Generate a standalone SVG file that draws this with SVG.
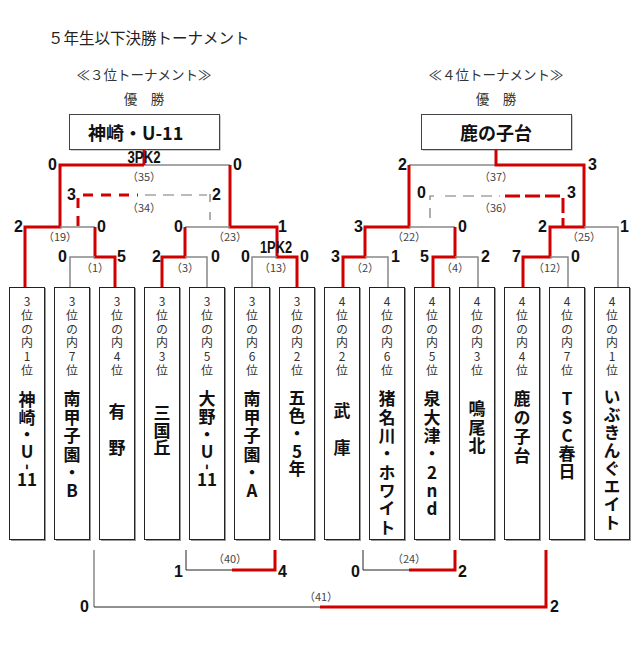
<svg xmlns="http://www.w3.org/2000/svg" width="640" height="650" viewBox="0 0 640 650">
<style>
.jp{font-family:"Noto Sans CJK JP","Noto Sans",sans-serif}
.ttl{font-size:15.5px;fill:#222}
.sub{font-size:13.5px;fill:#333;text-anchor:middle}
.win{font-size:18px;font-weight:bold;fill:#111}
.v{writing-mode:vertical-rl;text-orientation:upright;text-anchor:start}
.hd{font-size:12px;fill:#333;letter-spacing:1.75px}
.nm{font-size:17px;font-weight:bold;fill:#111}
.nh{font-size:17px;font-weight:bold;fill:#111;text-anchor:middle}
.sc{font-family:"Liberation Sans Narrow","Arial Narrow","Liberation Sans",sans-serif;font-weight:bold;font-size:16px;fill:#111}
.e{text-anchor:end}
.m{text-anchor:middle}
.lb{font-family:"Noto Sans CJK JP",sans-serif;font-size:11px;fill:#444;text-anchor:middle}
.box{fill:#fff;stroke:#222;stroke-width:1}
.sh{fill:#999}
.red{fill:none;stroke:#d00000;stroke-width:3;stroke-linejoin:miter}
.gry{fill:none;stroke:#888;stroke-width:1.5}
.blk{fill:none;stroke:#222;stroke-width:1}
.rd{fill:none;stroke:#d00000;stroke-width:3;stroke-dasharray:15 5}
.gd{fill:none;stroke:#777;stroke-width:1.2;stroke-dasharray:11 7}
</style>

<text class="jp ttl" x="48" y="44">５年生以下決勝トーナメント</text>
<text class="jp sub" x="144" y="80">≪３位トーナメント≫</text>
<text class="jp sub" x="496" y="80">≪４位トーナメント≫</text>
<text class="jp sub" x="144" y="104">優　勝</text>
<text class="jp sub" x="496" y="104">優　勝</text>

<g id="champion-left">
<rect x="70.5" y="115.5" width="150" height="35" class="sh"/>
<rect x="69.5" y="114.5" width="150" height="35" class="box" style="stroke:#444"/>
<text class="jp win" x="88" y="140">神崎・U-11</text>
</g>
<g id="champion-right">
<rect x="422.5" y="115.5" width="150" height="35" class="sh"/>
<rect x="421.5" y="114.5" width="150" height="35" class="box" style="stroke:#444"/>
<text class="jp win" x="496" y="140" text-anchor="middle">鹿の子台</text>
</g>

<g id="connectors">
<polyline class="gry" points="144,165 230,165"/>
<polyline class="red" points="25,287 25,227 60,227 60,165 144,165"/>
<polyline class="red" points="144,150 144,165"/>
<polyline class="red" points="230,165 230,227 277,227 277,257 297,257 297,287"/>
<polyline class="gry" points="60,227 95,227"/>
<polyline class="red" points="95,227 95,257 115,257 115,287"/>
<polyline class="gry" points="70,287 70,257 95,257"/>
<polyline class="gry" points="185,227 230,227"/>
<polyline class="red" points="185,227 185,257 162,257 162,287"/>
<polyline class="gry" points="185,257 207,257 207,287"/>
<polyline class="gry" points="252,287 252,257 277,257"/>
<polyline class="rd" points="78,226 78,195 138,195" style="stroke-dasharray:10 8"/>
<polyline class="gd" points="145,195 207,195"/>
<polyline class="gd" points="210,194 210,202" style="stroke-dasharray:none"/>
<polyline class="gd" points="210,212 210,220" style="stroke-dasharray:none"/>
<polyline class="gry" points="409,165 496,165"/>
<polyline class="red" points="496,150 496,165 584,165 584,227 550,227 550,257 523,257 523,287"/>
<polyline class="red" points="409,165 409,227 365,227 365,257 343,257 343,287"/>
<polyline class="gry" points="409,227 455,227"/>
<polyline class="red" points="455,227 455,257 433,257 433,287"/>
<polyline class="gry" points="365,257 388,257 388,287"/>
<polyline class="gry" points="455,257 478,257 478,287"/>
<polyline class="gry" points="550,257 568,257 568,287"/>
<polyline class="gry" points="584,227 618,227 618,287"/>
<polyline class="gd" points="430,200 430,196 434,196" style="stroke-dasharray:none"/>
<polyline class="gd" points="430,208 430,218" style="stroke-dasharray:none"/>
<polyline class="gd" points="445,196 500,196"/>
<polyline class="rd" points="505,196 563,196 563,226" style="stroke-dasharray:15 5"/>
<polyline class="blk" points="186,550 186,570 232,570"/>
<polyline class="red" points="232,570 275,570 275,550"/>
<polyline class="blk" points="363,550 363,570 409,570"/>
<polyline class="red" points="409,570 455,570 455,550"/>
<polyline class="gry" points="94,550 94,607"/>
<polyline class="blk" points="94,607 320,607"/>
<polyline class="red" points="320,607 546,607 546,550"/>
</g>

<g id="scores">
<text class="sc e" x="57" y="170">0</text>
<text class="sc m" x="144" y="163" textLength="33" lengthAdjust="spacingAndGlyphs">3PK2</text>
<text class="sc" x="233" y="170">0</text>
<text class="sc e" x="76" y="200">3</text>
<text class="sc" x="212" y="200">2</text>
<text class="sc e" x="23" y="232">2</text>
<text class="sc" x="97" y="232">0</text>
<text class="sc e" x="67" y="262">0</text>
<text class="sc" x="117" y="262">5</text>
<text class="sc e" x="183" y="232">0</text>
<text class="sc" x="278" y="232">1</text>
<text class="sc e" x="161" y="262">2</text>
<text class="sc" x="211" y="262">0</text>
<text class="sc e" x="250" y="262">0</text>
<text class="sc" x="300" y="262">0</text>
<text class="sc m" x="276" y="253" textLength="32" lengthAdjust="spacingAndGlyphs">1PK2</text>
<text class="sc e" x="407" y="170">2</text>
<text class="sc" x="588" y="170">3</text>
<text class="sc e" x="426" y="198">0</text>
<text class="sc" x="567" y="198">3</text>
<text class="sc e" x="363" y="232">3</text>
<text class="sc" x="458" y="232">0</text>
<text class="sc e" x="340" y="262">3</text>
<text class="sc" x="391" y="262">1</text>
<text class="sc e" x="429" y="262">5</text>
<text class="sc" x="481" y="262">2</text>
<text class="sc e" x="547" y="232">2</text>
<text class="sc" x="620" y="232">1</text>
<text class="sc e" x="521" y="262">7</text>
<text class="sc" x="571" y="262">0</text>
<text class="sc e" x="183" y="577">1</text>
<text class="sc" x="278" y="577">4</text>
<text class="sc e" x="360" y="577">0</text>
<text class="sc" x="458" y="577">2</text>
<text class="sc e" x="89" y="612">0</text>
<text class="sc" x="550" y="612">2</text>
</g>

<g id="match-labels">
<text class="lb" x="144" y="181">（35）</text>
<text class="lb" x="144" y="212">（34）</text>
<text class="lb" x="60" y="241">（19）</text>
<text class="lb" x="230" y="241">（23）</text>
<text class="lb" x="95" y="272">（1）</text>
<text class="lb" x="185" y="272">（3）</text>
<text class="lb" x="276" y="272">（13）</text>
<text class="lb" x="496" y="181">（37）</text>
<text class="lb" x="496" y="212">（36）</text>
<text class="lb" x="409" y="241">（22）</text>
<text class="lb" x="584" y="241">（25）</text>
<text class="lb" x="365" y="272">（2）</text>
<text class="lb" x="455" y="272">（4）</text>
<text class="lb" x="550" y="272">（12）</text>
<text class="lb" x="230" y="563">（40）</text>
<text class="lb" x="409" y="563">（24）</text>
<text class="lb" x="321" y="601">（41）</text>
</g>

<g id="team-1">
<rect x="11" y="288" width="35" height="253" class="sh"/><rect x="9.5" y="287.5" width="35" height="252" class="box"/>
<text class="jp hd v" x="27" y="295.5">3位の内1位</text>
<text class="jp nm v" x="27" y="391.5" style="letter-spacing:0.3px">神崎・U</text>
<text class="jp nh" transform="translate(27,467) rotate(90)" y="5">-</text>
<text class="jp nh" x="27" y="486">11</text>
</g>
<g id="team-2">
<rect x="56" y="288" width="35" height="253" class="sh"/><rect x="54.5" y="287.5" width="35" height="252" class="box"/>
<text class="jp hd v" x="72" y="295.5">3位の内7位</text>
<text class="jp nm v" x="72" y="390.5" style="letter-spacing:1.4px">南甲子園・B</text>
</g>
<g id="team-3">
<rect x="101" y="288" width="35" height="253" class="sh"/><rect x="99.5" y="287.5" width="35" height="252" class="box"/>
<text class="jp hd v" x="117" y="295.5">3位の内4位</text>
<text class="jp nm v" x="117" y="403" style="letter-spacing:1.2px">有　野</text>
</g>
<g id="team-4">
<rect x="146" y="288" width="35" height="253" class="sh"/><rect x="144.5" y="287.5" width="35" height="252" class="box"/>
<text class="jp hd v" x="162" y="295.5">3位の内3位</text>
<text class="jp nm v" x="162" y="404.5" style="letter-spacing:0.5px">三国丘</text>
</g>
<g id="team-5">
<rect x="191" y="288" width="35" height="253" class="sh"/><rect x="189.5" y="287.5" width="35" height="252" class="box"/>
<text class="jp hd v" x="207" y="295.5">3位の内5位</text>
<text class="jp nm v" x="207" y="390.5" style="letter-spacing:0.6px">大野・U</text>
<text class="jp nh" transform="translate(207,467) rotate(90)" y="5">-</text>
<text class="jp nh" x="207" y="486">11</text>
</g>
<g id="team-6">
<rect x="236" y="288" width="35" height="253" class="sh"/><rect x="234.5" y="287.5" width="35" height="252" class="box"/>
<text class="jp hd v" x="252" y="295.5">3位の内6位</text>
<text class="jp nm v" x="252" y="390.5" style="letter-spacing:1.4px">南甲子園・A</text>
</g>
<g id="team-7">
<rect x="281" y="288" width="35" height="253" class="sh"/><rect x="279.5" y="287.5" width="35" height="252" class="box"/>
<text class="jp hd v" x="297" y="295.5">3位の内2位</text>
<text class="jp nm v" x="297" y="389.5" style="letter-spacing:0.75px">五色・5年</text>
</g>
<g id="team-8">
<rect x="326" y="288" width="35" height="253" class="sh"/><rect x="324.5" y="287.5" width="35" height="252" class="box"/>
<text class="jp hd v" x="342" y="295.5">4位の内2位</text>
<text class="jp nm v" x="342" y="402.5" style="letter-spacing:1.25px">武　庫</text>
</g>
<g id="team-9">
<rect x="371" y="288" width="35" height="253" class="sh"/><rect x="369.5" y="287.5" width="35" height="252" class="box"/>
<text class="jp hd v" x="387" y="295.5">4位の内6位</text>
<text class="jp nm v" x="387" y="390.5" style="letter-spacing:1.3px">猪名川・ホワイト</text>
</g>
<g id="team-10">
<rect x="416" y="288" width="35" height="253" class="sh"/><rect x="414.5" y="287.5" width="35" height="252" class="box"/>
<text class="jp hd v" x="432" y="295.5">4位の内5位</text>
<text class="jp nm v" x="432" y="390.5" style="letter-spacing:1.3px">泉大津・2nd</text>
</g>
<g id="team-11">
<rect x="461" y="288" width="35" height="253" class="sh"/><rect x="459.5" y="287.5" width="35" height="252" class="box"/>
<text class="jp hd v" x="477" y="295.5">4位の内3位</text>
<text class="jp nm v" x="477" y="400.5" style="letter-spacing:1.5px">鳴尾北</text>
</g>
<g id="team-12">
<rect x="506" y="288" width="35" height="253" class="sh"/><rect x="504.5" y="287.5" width="35" height="252" class="box"/>
<text class="jp hd v" x="522" y="295.5">4位の内4位</text>
<text class="jp nm v" x="522" y="390.5" style="letter-spacing:1.7px">鹿の子台</text>
</g>
<g id="team-13">
<rect x="551" y="288" width="35" height="253" class="sh"/><rect x="549.5" y="287.5" width="35" height="252" class="box"/>
<text class="jp hd v" x="567" y="295.5">4位の内7位</text>
<text class="jp nm v" x="567" y="390.5" style="letter-spacing:1.25px">TSC春日</text>
</g>
<g id="team-14">
<rect x="596" y="288" width="35" height="253" class="sh"/><rect x="594.5" y="287.5" width="35" height="252" class="box"/>
<text class="jp hd v" x="612" y="295.5">4位の内1位</text>
<text class="jp nm v" x="612" y="388.2" style="letter-spacing:1px">いぶきんぐエイト</text>
</g>
</svg>
